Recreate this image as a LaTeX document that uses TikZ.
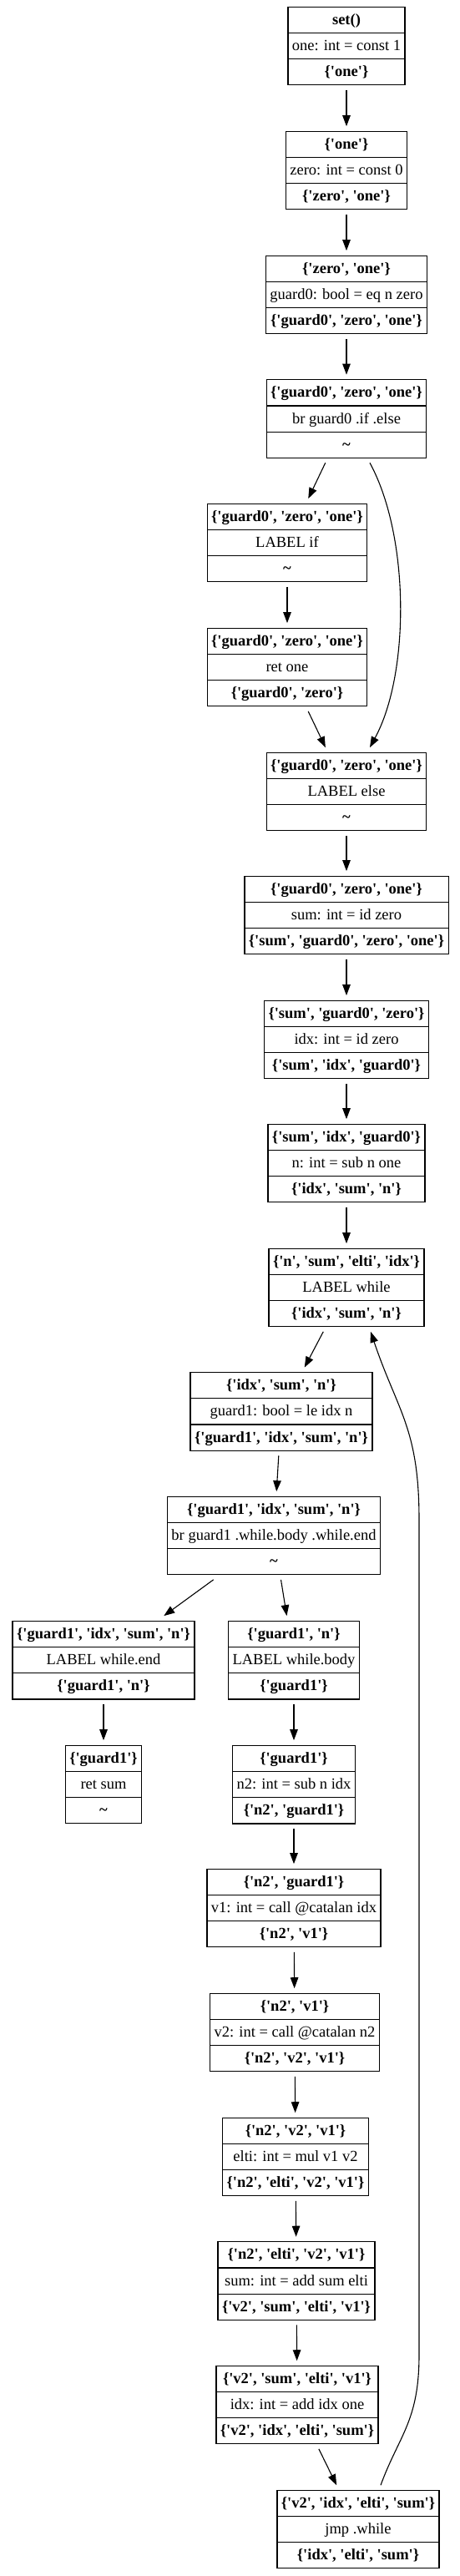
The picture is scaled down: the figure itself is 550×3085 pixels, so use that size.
\documentclass[tikz,border=0pt]{standalone}
\usepackage{fontspec}
\setmainfont{Liberation Serif}[Ligatures=TeXOff]
\usepackage{tikz}
\usetikzlibrary{shapes.multipart,arrows.meta}
% strut for one record field
\newcommand{\rs}{\rule[-4pt]{0pt}{19pt}}
\newcommand{\rec}[3]{\textbf{#1}\rs\nodepart{two}#2\rs\nodepart{three}\textbf{#3}\rs}
\newcommand{\nolive}{\textasciitilde}

\begin{document}
\begin{tikzpicture}[x=1pt,y=-1pt,
  >={Triangle[length=13pt,width=9.5pt]},
  blk/.style={rectangle split,rectangle split parts=3,draw,line width=1.2pt,
              inner xsep=5pt,inner ysep=5.5pt,outer sep=6pt,
              font=\fontsize{18.5}{22}\selectfont},
  flow/.style={->,line width=1.1pt},
]
\useasboundingbox (0,0) rectangle (550,3085);
\node[blk] (b1) at (415,55) {\rec{set()}{one: int = const 1}{\{'one'\}}};
\node[blk] (b2) at (415,204) {\rec{\{'one'\}}{zero: int = const 0}{\{'zero', 'one'\}}};
\node[blk] (b3) at (415,353) {\rec{\{'zero', 'one'\}}{guard0: bool = eq n zero}{\{'guard0', 'zero', 'one'\}}};
\node[blk] (b4) at (415,501.5) {\rec{\{'guard0', 'zero', 'one'\}}{br guard0 .if .else}{\nolive}};
\node[blk] (b5) at (344,650) {\rec{\{'guard0', 'zero', 'one'\}}{LABEL if}{\nolive}};
\node[blk] (b6) at (344,799) {\rec{\{'guard0', 'zero', 'one'\}}{ret one}{\{'guard0', 'zero'\}}};
\node[blk] (b7) at (415,948) {\rec{\{'guard0', 'zero', 'one'\}}{LABEL else}{\nolive}};
\node[blk] (b8) at (415,1096) {\rec{\{'guard0', 'zero', 'one'\}}{sum: int = id zero}{\{'sum', 'guard0', 'zero', 'one'\}}};
\node[blk] (b9) at (415,1245) {\rec{\{'sum', 'guard0', 'zero'\}}{idx: int = id zero}{\{'sum', 'idx', 'guard0'\}}};
\node[blk] (b10) at (415,1393) {\rec{\{'sum', 'idx', 'guard0'\}}{n: int = sub n one}{\{'idx', 'sum', 'n'\}}};
\node[blk] (b11) at (415,1542) {\rec{\{'n', 'sum', 'elti', 'idx'\}}{LABEL while}{\{'idx', 'sum', 'n'\}}};
\node[blk] (b12) at (337,1690.5) {\rec{\{'idx', 'sum', 'n'\}}{guard1: bool = le idx n}{\{'guard1', 'idx', 'sum', 'n'\}}};
\node[blk] (b13) at (328,1839) {\rec{\{'guard1', 'idx', 'sum', 'n'\}}{br guard1 .while.body .while.end}{\nolive}};
\node[blk] (b14) at (124,1988) {\rec{\{'guard1', 'idx', 'sum', 'n'\}}{LABEL while.end}{\{'guard1', 'n'\}}};
\node[blk] (b15) at (352,1988) {\rec{\{'guard1', 'n'\}}{LABEL while.body}{\{'guard1'\}}};
\node[blk] (b16) at (124,2137) {\rec{\{'guard1'\}}{ret sum}{\nolive}};
\node[blk] (b17) at (352,2137) {\rec{\{'guard1'\}}{n2: int = sub n idx}{\{'n2', 'guard1'\}}};
\node[blk] (b18) at (352,2285) {\rec{\{'n2', 'guard1'\}}{v1: int = call @catalan idx}{\{'n2', 'v1'\}}};
\node[blk] (b19) at (353,2434) {\rec{\{'n2', 'v1'\}}{v2: int = call @catalan n2}{\{'n2', 'v2', 'v1'\}}};
\node[blk] (b20) at (354,2583) {\rec{\{'n2', 'v2', 'v1'\}}{elti: int = mul v1 v2}{\{'n2', 'elti', 'v2', 'v1'\}}};
\node[blk] (b21) at (355,2731.5) {\rec{\{'n2', 'elti', 'v2', 'v1'\}}{sum: int = add sum elti}{\{'v2', 'sum', 'elti', 'v1'\}}};
\node[blk] (b22) at (356,2880) {\rec{\{'v2', 'sum', 'elti', 'v1'\}}{idx: int = add idx one}{\{'v2', 'idx', 'elti', 'sum'\}}};
\node[blk] (b23) at (429,3029) {\rec{\{'v2', 'idx', 'elti', 'sum'\}}{jmp .while}{\{'idx', 'elti', 'sum'\}}};
% straight flow
\draw[flow] (b1) -- (b2);
\draw[flow] (b2) -- (b3);
\draw[flow] (b3) -- (b4);
\draw[flow] (b4) -- (b5);
\draw[flow] (b5) -- (b6);
\draw[flow] (b6) -- (b7);
\draw[flow] (b7) -- (b8);
\draw[flow] (b8) -- (b9);
\draw[flow] (b9) -- (b10);
\draw[flow] (b10) -- (b11);
\draw[flow] (b11) -- (b12);
\draw[flow] (b12) -- (b13);
\draw[flow] (b13) -- (b14);
\draw[flow] (b13) -- (b15);
\draw[flow] (b14) -- (b16);
\draw[flow] (b15) -- (b17);
\draw[flow] (b17) -- (b18);
\draw[flow] (b18) -- (b19);
\draw[flow] (b19) -- (b20);
\draw[flow] (b20) -- (b21);
\draw[flow] (b21) -- (b22);
\draw[flow] (b22) -- (b23);
% branch to else
\draw[flow] ([xshift=28pt]b4.south) .. controls +(48,88) and +(48,-88) .. ([xshift=28pt]b7.north);
% loop back
\coordinate (up1) at (502,2820);
\coordinate (up2) at (502,1820);
\draw[flow] ([xshift=27pt]b23.north) .. controls +(22,-60) and +(0,80) .. (up1) -- (up2)
  .. controls +(0,-110) and +(32,95) .. ([xshift=29pt]b11.south);
\end{tikzpicture}
\end{document}
